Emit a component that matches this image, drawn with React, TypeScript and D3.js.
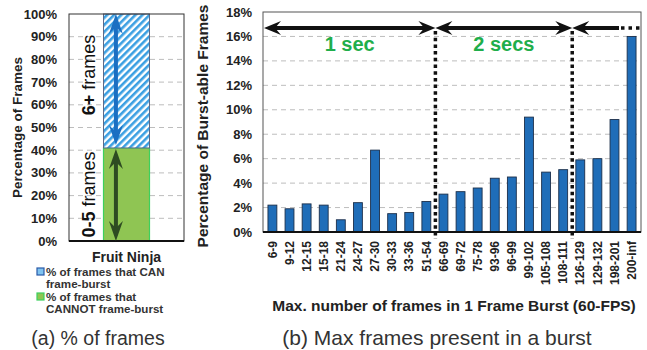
import * as d3 from "d3";

// left panel: one app, split in two parts
const appNames = ["Fruit Ninja"];
const canBurst = [59];
const cannotBurst = [41];
const leftTicks = [0, 10, 20, 30, 40, 50, 60, 70, 80, 90, 100];

// right panel: burst length histogram
const burstCats = [
  "6-9", "9-12", "12-15", "15-18", "21-24", "24-27", "27-30", "30-33", "33-36", "51-54",
  "66-69", "69-72", "75-78", "93-96", "96-99", "99-102", "105-108", "108-111",
  "126-129", "129-132", "198-201", "200-inf",
];
const burstPct = [
  2.2, 1.9, 2.3, 2.2, 1.0, 2.4, 6.7, 1.5, 1.6, 2.5,
  3.1, 3.3, 3.6, 4.4, 4.5, 9.4, 4.9, 5.1,
  5.9, 6.0, 9.2, 16.0,
];
const rightTicks = [0, 2, 4, 6, 8, 10, 12, 14, 16, 18];
const secMarks = [
  { label: "1 sec", from: "6-9", to: "51-54" },
  { label: "2 secs", from: "66-69", to: "108-111" },
];

const FONT = "'Liberation Sans', Arial, Helvetica, sans-serif";

// barbed arrow head, tip at (x,y), pointing in direction (dx,dy)
function head(x: number, y: number, dx: number, dy: number, len = 16, half = 7) {
  const px = -dy, py = dx;
  const bx = x - dx * len, by = y - dy * len;
  const nx = x - dx * len * 0.65, ny = y - dy * len * 0.65;
  return `M${x},${y}L${bx + px * half},${by + py * half}L${nx},${ny}L${bx - px * half},${by - py * half}Z`;
}

export default function App() {
  // ---- left chart
  const lx0 = 69, lx1 = 184, ly0 = 14, ly1 = 241;
  const xL = d3.scaleBand().domain(appNames).range([lx0, lx1]).paddingInner(0.6).paddingOuter(0.3);
  const yL = d3.scaleLinear().domain([0, 100]).range([ly1, ly0]);
  const app = appNames[0];
  const bx = xL(app)!;
  const bw = xL.bandwidth();
  const arrowX = bx + bw * 0.27;
  const split = yL(cannotBurst[0]);
  const top = yL(cannotBurst[0] + canBurst[0]);

  // ---- right chart
  const rx0 = 263, rx1 = 641, ry0 = 12, ry1 = 232;
  const xR = d3.scaleBand().domain(burstCats).range([rx0, rx1]).paddingInner(0.48).paddingOuter(0.29);
  const yR = d3.scaleLinear().domain([0, 18]).range([ry1, ry0]);
  const gap = xR.step() * xR.paddingInner();
  const splitX = (c: string) => xR(c)! - gap / 2 + 0.5;
  const arrowY = 28;
  const splits = [splitX("66-69"), splitX("126-129")];

  return (
    <div style={{ position: "fixed", left: 0, top: 0 }}>
      <svg width={647} height={350} style={{ display: "block", background: "#fff" }} fontFamily={FONT}>
        <defs>
          <pattern id="hatch" width={5} height={5} patternUnits="userSpaceOnUse" patternTransform="rotate(45)">
            <rect width={5} height={5} fill="#fff" />
            <rect width={2.6} height={5} fill="#3a9fe2" />
          </pattern>
        </defs>

        {/* ===== left chart ===== */}
        {leftTicks.map((t) => (
          <g key={"lt" + t}>
            {t > 0 && t < 100 && (
              <line x1={lx0} x2={lx1} y1={yL(t)} y2={yL(t)} stroke="#bdbdbd" strokeDasharray="5,4" />
            )}
            <text x={57} y={yL(t)} dy="0.35em" textAnchor="end" fontSize={13} fontWeight="bold" fill="#222">
              {t}%
            </text>
          </g>
        ))}
        <rect x={bx} y={split} width={bw} height={yL(0) - split}
          fill="#8fc553" stroke="#3cd05e" strokeWidth={1.2} />
        <rect x={bx} y={top} width={bw} height={split - top}
          fill="url(#hatch)" stroke="#5a6a8a" strokeWidth={1} />
        <rect x={lx0} y={ly0} width={lx1 - lx0} height={ly1 - ly0} fill="none" stroke="#333" strokeWidth={1} />
        <line x1={lx0} x2={lx1} y1={ly1} y2={ly1} stroke="#111" strokeWidth={2} />

        {/* blue arrow over the 6+ part */}
        <line x1={arrowX} x2={arrowX} y1={top + 10} y2={split - 12} stroke="#1b6fc2" strokeWidth={4} />
        <path d={head(arrowX, top, 0, -1, 20, 7)} fill="#1b6fc2" />
        <path d={head(arrowX, split - 3, 0, 1, 20, 7)} fill="#1b6fc2" />
        {/* dark green arrow over the 0-5 part */}
        <line x1={arrowX} x2={arrowX} y1={split + 10} y2={yL(0) - 10} stroke="#2e4b22" strokeWidth={4} />
        <path d={head(arrowX, split + 1, 0, -1, 20, 7)} fill="#2e4b22" />
        <path d={head(arrowX, yL(0), 0, 1, 20, 7)} fill="#2e4b22" />

        <text transform={`translate(95,${(top + split) / 2 - 6}) rotate(-90)`} textAnchor="middle" fontSize={18} fill="#111">
          <tspan fontWeight="bold">6+</tspan> frames
        </text>
        <text transform={`translate(95,${(split + yL(0)) / 2}) rotate(-90)`} textAnchor="middle" fontSize={18} fill="#111">
          <tspan fontWeight="bold">0-5</tspan> frames
        </text>

        <text transform={`translate(22,${(ly0 + ly1) / 2}) rotate(-90)`} textAnchor="middle" fontSize={13.5} fontWeight="bold" fill="#222">
          Percentage of Frames
        </text>
        <text x={bx + bw / 2} y={262} textAnchor="middle" fontSize={14} fontWeight="bold" fill="#222">
          {app}
        </text>

        {/* legend */}
        <rect x={37} y={268} width={7} height={7} fill="#7fc3f0" stroke="#2a5aa8" strokeWidth={1.2} />
        <text x={46} y={276} fontSize={11.6} fontWeight="bold" fill="#333">% of frames that CAN</text>
        <text x={46} y={288} fontSize={11.6} fontWeight="bold" fill="#333">frame-burst</text>
        <rect x={37} y={293} width={7} height={7} fill="#8fc553" stroke="#3cd05e" strokeWidth={1.2} />
        <text x={46} y={301} fontSize={11.6} fontWeight="bold" fill="#333">% of frames that</text>
        <text x={46} y={313} fontSize={11.6} fontWeight="bold" fill="#333">CANNOT frame-burst</text>

        <text x={98} y={345} textAnchor="middle" fontSize={19.5} fill="#333">(a) % of frames</text>

        {/* ===== right chart ===== */}
        {rightTicks.map((t) => (
          <g key={"rt" + t}>
            {t > 0 && t < 18 && (
              <line x1={rx0} x2={rx1} y1={yR(t)} y2={yR(t)} stroke="#bdbdbd" strokeDasharray="5,4" />
            )}
            <text x={252} y={yR(t)} dy="0.35em" textAnchor="end" fontSize={13} fontWeight="bold" fill="#222">
              {t}%
            </text>
          </g>
        ))}
        {burstCats.map((c, i) => (
          <rect key={c} x={xR(c)} y={yR(burstPct[i])} width={xR.bandwidth()} height={yR(0) - yR(burstPct[i])}
            fill="#1f6db8" stroke="#1c2f4a" strokeWidth={0.9} />
        ))}
        <rect x={rx0} y={ry0} width={rx1 - rx0} height={ry1 - ry0} fill="none" stroke="#555" strokeWidth={1} />
        <line x1={rx0} x2={rx1} y1={ry1} y2={ry1} stroke="#111" strokeWidth={2} />

        {/* dotted separators */}
        {splits.map((sx, i) => (
          <line key={"sp" + i} x1={sx} x2={sx} y1={arrowY + 3} y2={ry1 + 7} stroke="#111" strokeWidth={3.5} strokeDasharray="3.5,3.2" />
        ))}
        <line x1={621} x2={rx1 + 1} y1={arrowY} y2={arrowY} stroke="#111" strokeWidth={3.5} strokeDasharray="3.5,4" />

        {/* time span arrows */}
        {secMarks.map((m, i) => {
          const a = i === 0 ? rx0 + 1 : splits[0];
          const b = i === 0 ? splits[0] : splits[1];
          return (
            <g key={m.label}>
              <line x1={a + 8} x2={b - 8} y1={arrowY} y2={arrowY} stroke="#111" strokeWidth={4} />
              <path d={head(a, arrowY, -1, 0, 17, 7)} fill="#111" />
              <path d={head(b, arrowY, 1, 0, 17, 7)} fill="#111" />
              <text x={(a + b) / 2} y={51} textAnchor="middle" fontSize={20} fontWeight="bold" fill="#1fae4b">
                {m.label}
              </text>
            </g>
          );
        })}
        <line x1={splits[1] + 8} x2={619} y1={arrowY} y2={arrowY} stroke="#111" strokeWidth={4} />
        <path d={head(splits[1], arrowY, -1, 0, 17, 7)} fill="#111" />

        {/* x tick labels */}
        {burstCats.map((c) => (
          <text key={"xl" + c} transform={`translate(${xR(c)! + xR.bandwidth() / 2},${ry1 + 9}) rotate(-90)`}
            textAnchor="end" dy="0.35em" fontSize={12} fontWeight="bold" fill="#222">
            {c}
          </text>
        ))}

        <text transform={`translate(208,${(ry0 + ry1) / 2 + 4}) rotate(-90)`} textAnchor="middle" fontSize={15.5} fontWeight="bold" fill="#222">
          Percentage of Burst-able Frames
        </text>
        <text x={454} y={311} textAnchor="middle" fontSize={15.5} fontWeight="bold" fill="#222">
          Max. number of frames in 1 Frame Burst (60-FPS)
        </text>
        <text x={437} y={345} textAnchor="middle" fontSize={21} fill="#333">(b) Max frames present in a burst</text>
      </svg>
    </div>
  );
}
